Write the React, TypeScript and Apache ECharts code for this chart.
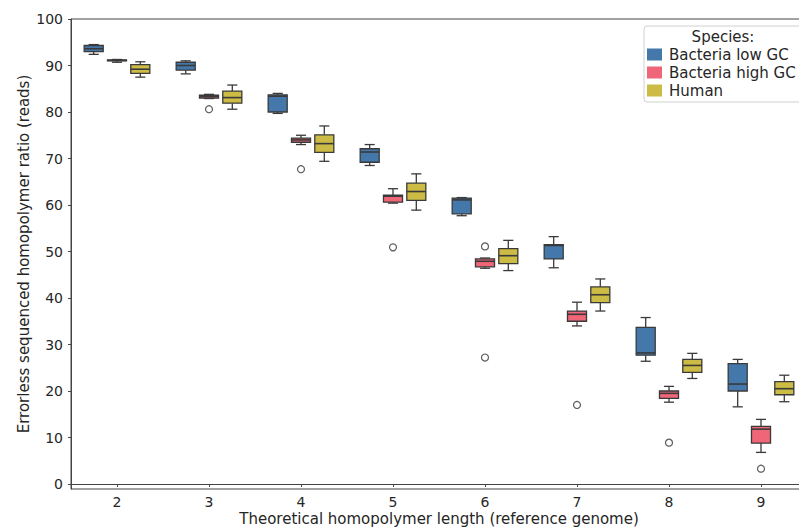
import React, { useEffect, useRef } from "react";
import * as echarts from "echarts";

// ---- data ----
const categories = ["2", "3", "4", "5", "6", "7", "8", "9"];
const seriesNames = ["Bacteria low GC", "Bacteria high GC", "Human"];
// [min, q1, median, q3, max] per category
const lowGC = [
  [92.4, 93.0, 93.6, 94.3, 94.5],
  [88.2, 89.0, 90.0, 90.7, 91.0],
  [79.7, 80.0, 83.4, 83.7, 84.0],
  [68.5, 69.2, 71.4, 72.1, 73.0],
  [57.7, 58.1, 61.1, 61.5, 61.6],
  [46.5, 48.4, 51.3, 51.5, 53.2],
  [26.4, 27.7, 28.2, 33.7, 35.8],
  [16.6, 20.0, 21.5, 25.9, 26.8],
];
const highGC = [
  [90.7, 91.0, 91.1, 91.2, 91.3],
  [82.9, 83.0, 83.3, 83.6, 83.8],
  [73.0, 73.5, 74.0, 74.4, 75.0],
  [60.4, 60.6, 61.9, 62.1, 63.5],
  [46.4, 46.7, 47.9, 48.4, 48.6],
  [34.0, 35.0, 36.5, 37.2, 39.1],
  [17.6, 18.4, 19.5, 20.0, 21.0],
  [6.8, 8.8, 11.8, 12.4, 13.9],
];
const human = [
  [87.5, 88.3, 89.2, 90.2, 90.8],
  [80.6, 81.9, 83.1, 84.5, 85.8],
  [69.4, 71.3, 73.2, 75.1, 77.0],
  [58.9, 61.0, 62.9, 64.7, 66.7],
  [45.9, 47.4, 49.1, 50.6, 52.4],
  [37.2, 39.0, 40.7, 42.4, 44.1],
  [22.7, 24.0, 25.5, 26.8, 28.1],
  [17.7, 19.2, 20.5, 22.0, 23.4],
];
// outliers of the high GC group: [category index, value]
const highGCOutliers = [
  [1, 80.6],
  [2, 67.7],
  [3, 50.9],
  [4, 51.1],
  [4, 27.2],
  [5, 17.0],
  [6, 8.9],
  [7, 3.3],
];
const yTicks = [0, 10, 20, 30, 40, 50, 60, 70, 80, 90, 100];

// ---- style ----
const COLORS = ["#4477AA", "#EE6677", "#CCBB44"];
const OFFSETS = [-0.2533, 0, 0.2533]; // fraction of band width
const BOX_W = 0.207;
const CAP_W = 0.11;
const EDGE = "#3a3a3a";
const TEXT = "#262626";
const FONT = "DejaVu Sans";

function makeRender(offset: number) {
  return (params: any, api: any) => {
    const idx = api.value(0);
    const band = api.size([1, 0])[0];
    const pMin = api.coord([idx, api.value(1)]);
    const pQ1 = api.coord([idx, api.value(2)]);
    const pMed = api.coord([idx, api.value(3)]);
    const pQ3 = api.coord([idx, api.value(4)]);
    const pMax = api.coord([idx, api.value(5)]);
    const cx = pMin[0] + offset * band;
    const hw = (BOX_W * band) / 2;
    const cw = (CAP_W * band) / 2;
    const ls = { stroke: EDGE, lineWidth: 1.3 };
    return {
      type: "group",
      children: [
        { type: "line", shape: { x1: cx, y1: pQ1[1], x2: cx, y2: pMin[1] }, style: ls },
        { type: "line", shape: { x1: cx, y1: pQ3[1], x2: cx, y2: pMax[1] }, style: ls },
        { type: "line", shape: { x1: cx - cw, y1: pMin[1], x2: cx + cw, y2: pMin[1] }, style: ls },
        { type: "line", shape: { x1: cx - cw, y1: pMax[1], x2: cx + cw, y2: pMax[1] }, style: ls },
        {
          type: "rect",
          shape: { x: cx - hw, y: pQ3[1], width: 2 * hw, height: pQ1[1] - pQ3[1] },
          style: { fill: api.visual("color"), stroke: EDGE, lineWidth: 1.3 },
        },
        { type: "line", shape: { x1: cx - hw, y1: pMed[1], x2: cx + hw, y2: pMed[1] }, style: { stroke: EDGE, lineWidth: 1.6 } },
      ],
    };
  };
}

export default function App() {
  const ref = useRef<HTMLDivElement>(null);
  useEffect(() => {
    if (!ref.current) return;
    const chart = echarts.init(ref.current, undefined, { renderer: "svg" });
    const groups = [lowGC, highGC, human];
    const boxSeries = groups.map((g, si) => ({
      type: "custom",
      name: seriesNames[si],
      renderItem: makeRender(OFFSETS[si]),
      itemStyle: { color: COLORS[si] },
      encode: { x: 0, y: [1, 2, 3, 4, 5] },
      data: g.map((v, i) => [i, ...v]),
      z: 3,
    }));
    chart.setOption({
      animation: false,
      backgroundColor: "#ffffff",
      textStyle: { fontFamily: FONT, color: TEXT },
      grid: {
        left: 71,
        top: 19,
        width: 736,
        height: 470,
        outerBoundsMode: "none",
        containLabel: false,
        show: true,
        borderColor: "#444",
        borderWidth: 1,
        backgroundColor: "transparent",
      },
      xAxis: {
        type: "category",
        data: categories,
        boundaryGap: true,
        name: "Theoretical homopolymer length (reference genome)",
        nameLocation: "middle",
        nameGap: 22,
        nameMoveOverlap: false,
        nameTextStyle: { fontSize: 15, lineHeight: 16, color: TEXT, fontFamily: FONT },
        axisLine: { show: true, lineStyle: { color: "#444", width: 1 } },
        axisTick: { show: true, alignWithLabel: true, length: 3, lineStyle: { color: "#444" } },
        axisLabel: { fontSize: 14, lineHeight: 14, color: TEXT, margin: 6, fontFamily: FONT },
        splitLine: { show: false },
      },
      yAxis: {
        type: "value",
        min: -1.07,
        max: 100,
        name: "Errorless sequenced homopolymer ratio (reads)",
        nameLocation: "middle",
        nameGap: 40,
        nameMoveOverlap: false,
        nameTextStyle: { fontSize: 15, color: TEXT, fontFamily: FONT },
        axisLine: { show: true, lineStyle: { color: "#444", width: 1 } },
        axisTick: { show: true, length: 3, lineStyle: { color: "#444" }, customValues: yTicks },
        axisLabel: { fontSize: 14, color: TEXT, margin: 8, fontFamily: FONT, customValues: yTicks },
        splitLine: { show: false },
      },
      legend: {
        orient: "vertical",
        left: 644,
        top: 26,
        padding: [21, 24, 4, 3],
        backgroundColor: "rgba(255,255,255,0.85)",
        borderColor: "#d0d0d0",
        borderWidth: 1,
        borderRadius: 3,
        itemWidth: 15,
        itemHeight: 12,
        itemGap: 3,
        itemStyle: { borderWidth: 0 },
        textStyle: { fontSize: 15, color: TEXT, fontFamily: FONT, lineHeight: 15, padding: [0, 0, 0, 2] },
        data: seriesNames.map((n) => ({ name: n, icon: "rect" })),
      },
      graphic: [
        {
          type: "text",
          x: 723,
          y: 37,
          z: 100,
          style: {
            text: "Species:",
            fontSize: 15,
            fontFamily: FONT,
            fill: TEXT,
            align: "center",
            verticalAlign: "middle",
          },
        },
      ],
      series: [
        ...boxSeries,
        {
          type: "scatter",
          name: "outliers",
          data: highGCOutliers,
          symbol: "circle",
          symbolSize: 7,
          itemStyle: { color: "#ffffff", borderColor: "#333", borderWidth: 1.2 },
          z: 4,
        },
      ],
    } as any);
    return () => chart.dispose();
  }, []);
  return (
    <div
      ref={ref}
      style={{ position: "fixed", left: 0, top: 0, width: 799, height: 529, background: "#fff" }}
    />
  );
}
